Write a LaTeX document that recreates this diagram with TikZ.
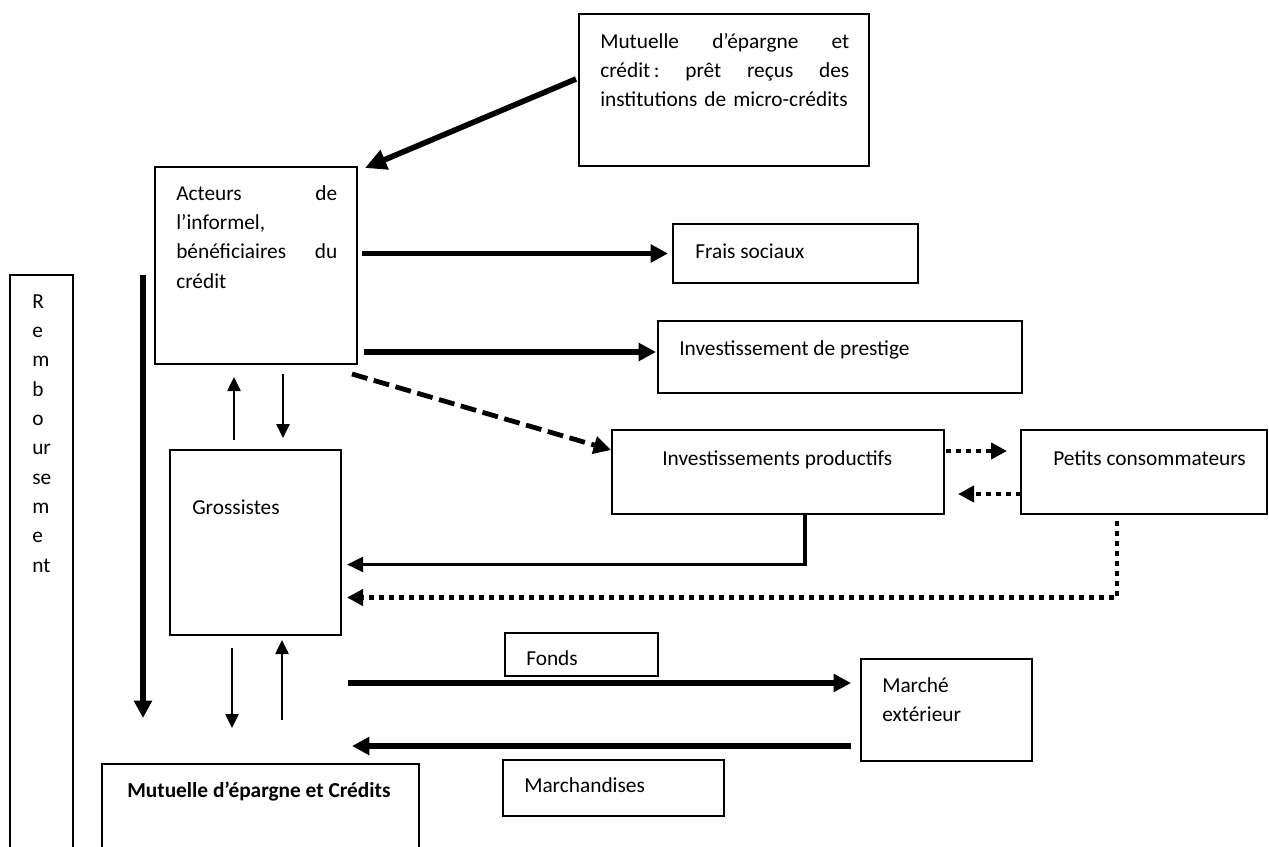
\documentclass[tikz,border=0pt]{standalone}
\usepackage{fontspec}
\setmainfont{Carlito}
\usetikzlibrary{arrows.meta,calc}
\tikzset{
 box/.style={draw, line width=1.4pt, rectangle, inner sep=0pt, outer sep=0pt, anchor=north west},
 thinbox/.style={box, line width=1.1pt},
 txt/.style={inner sep=0pt, anchor=base west, font=\fontsize{16}{22}\selectfont},
 thickarrow/.style={line width=4.2pt, -{Triangle[length=13pt,width=13pt]}},
 bigarrow/.style={line width=4.2pt, -{Triangle[length=16pt,width=15pt]}},
 thinarrow/.style={line width=1.1pt, -{Triangle[length=10.5pt,width=10pt]}},
 medarrow/.style={line width=2.3pt, -{Triangle[length=12pt,width=11pt]}},
 dotarrow/.style={line width=3.6pt, dash pattern=on 3.6pt off 3.9pt, -{Triangle[length=12pt,width=12pt]}},
 dasharrow/.style={line width=3.6pt, dash pattern=on 12pt off 5pt, -{Triangle[length=13pt,width=13pt]}},
}
\begin{document}
\begin{tikzpicture}[x=0.75pt,y=-0.75pt]
\useasboundingbox (0,0) rectangle (1269,846);
\clip (0,0) rectangle (1269,846);
\fill[white] (0,0) rectangle (1269,846);

% boxes
\node[box, minimum width=217.5pt, minimum height=114pt] (topm) at (579,14) {};
\node[box, minimum width=151.5pt, minimum height=147.75pt] (acteurs) at (155,167) {};
\node[thinbox, minimum width=47.25pt, minimum height=450pt] (rembou) at (10,275) {};
\node[box, minimum width=183.75pt, minimum height=44.25pt] (frais) at (673,224) {};
\node[box, minimum width=273pt, minimum height=54pt] (prestige) at (658,321) {};
\node[thinbox, minimum width=128.25pt, minimum height=138.75pt] (grossistes) at (170,450) {};
\node[box, minimum width=249pt, minimum height=63pt] (invprod) at (612,430) {};
\node[box, minimum width=184.5pt, minimum height=63pt] (petits) at (1021,430) {};
\node[thinbox, minimum width=114.75pt, minimum height=32.25pt] (fonds) at (505,633) {};
\node[box, minimum width=128.25pt, minimum height=76.5pt] (marche) at (861,659) {};
\node[thinbox, minimum width=165.75pt, minimum height=42pt] (marchandises) at (503,760) {};
\node[thinbox, minimum width=237.75pt, minimum height=90pt] (botm) at (102,764) {};

% texts
\node[txt, text width=186.75pt, align=left, font=\fontsize{16}{21.75}\selectfont] (topmT) at (600,48)
 {Mutuelle\hfill d’épargne\hfill et\\crédit\,:\hfill prêt\hfill reçus\hfill des\\institutions de micro-crédits};
\node[txt, text width=120.75pt, align=left] (acteursT) at (176,200)
 {Acteurs\hfill de\\l’informel,\\bénéficiaires\hfill du\\crédit};
\node[txt, text width=40pt, align=left] (remboursT) at (32,308)
 {R\\e\\m\\b\\o\\ur\\se\\m\\e\\nt};
\node[txt] (fraisT) at (695,258) {Frais sociaux};
\node[txt] (prestigeT) at (679,355) {Investissement de prestige};
\node[txt] (grossistesT) at (192,514) {Grossistes};
\node[txt] (invprodT) at (662,465) {Investissements productifs};
\node[txt] (petitsT) at (1053,465) {Petits consommateurs};
\node[txt] (fondsT) at (526,665) {Fonds};
\node[txt] (marchandisesT) at (524,792) {Marchandises};
\node[txt, text width=100pt, align=left] (marcheT) at (882,692) {Marché\\extérieur};
\node[txt, font=\fontsize{16}{22}\selectfont\bfseries] (botmT) at (127,797) {Mutuelle d’épargne et Crédits};

% connectors
\draw[bigarrow] ($(topm.west)+(-3,-11)$) -- ($(acteurs.north east)+(8,1)$);
\draw[thickarrow] ($(acteurs.east |- frais.west)+(5,0)$) -- ($(frais.west)+(-5,0)$);
\draw[thickarrow] ($(acteurs.east |- prestige.west)+(7,-5)$) -- ($(prestige.west)+(-2,-5)$);
\draw[dasharrow] ($(acteurs.south east)+(-5,10)$) -- ($(invprod.north west)+(-1,20)$);
\draw[thinarrow] ($(grossistes.north west)+(64,-10)$) -- ($(acteurs.south west)+(79,13)$);
\draw[thinarrow] ($(acteurs.south west)+(128,10)$) -- ($(grossistes.north west)+(113,-12)$);
\draw[thickarrow] ($(rembou.north east)+(70,0)$) -- ($(botm.north west)+(41,-46)$);
\draw[thinarrow] ($(grossistes.south west)+(62,13)$) -- ($(botm.north west)+(130,-36)$);
\draw[thinarrow] ($(botm.north west)+(180,-44)$) -- ($(grossistes.south west)+(112,5)$);
\draw[medarrow] ($(invprod.south west)+(193,0)$) |- ($(grossistes.east)+(6,22)$);
\draw[dotarrow] ($(petits.south west)+(96,7)$) |- ($(grossistes.east)+(6,55)$);
\draw[dotarrow] ($(invprod.north east)+(2,21)$) -- ($(petits.north west)+(-14,21)$);
\draw[dotarrow] ($(petits.south west)+(0,-20)$) -- ($(invprod.south east)+(14,-20)$);
\draw[thickarrow] ($(grossistes.south east |- marche.west)+(7,-27)$) -- ($(marche.west)+(-10,-27)$);
\draw[thickarrow] ($(marche.west)+(-10,36)$) -- ($(botm.north east |- marche.west)+(-67,36)$);
\end{tikzpicture}
\end{document}
